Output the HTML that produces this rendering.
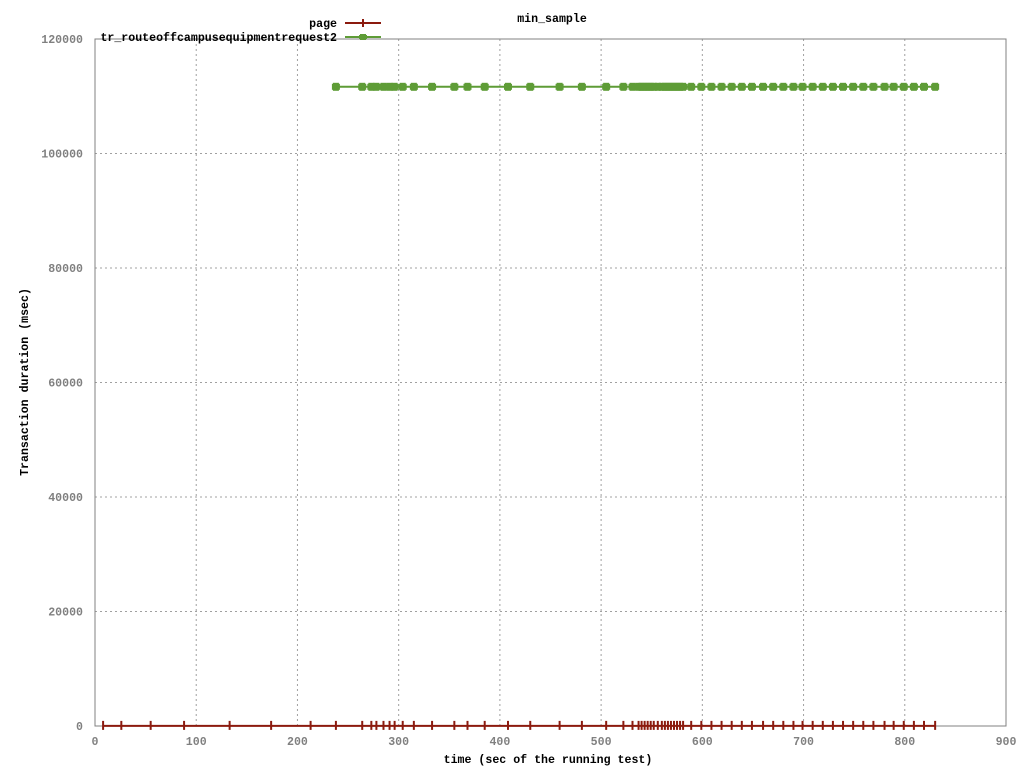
<!DOCTYPE html>
<html><head><meta charset="utf-8"><style>
html,body{margin:0;padding:0;background:#fff}
svg text{font-family:"Liberation Mono",monospace;font-size:11.6px;font-weight:bold;fill:#000}
.tk{fill:#808080}
</style></head><body>
<svg id="chart" width="1024" height="768" xmlns="http://www.w3.org/2000/svg">
<text x="552" y="22" text-anchor="middle">min_sample</text>
<g id="grid"></g>
<g id="axes"></g>
<text x="548" y="763" text-anchor="middle">time (sec of the running test)</text>
<text transform="translate(28,382) rotate(-90)" text-anchor="middle">Transaction duration (msec)</text>
<g id="series"></g>
<g>
<g><text x="337" y="27" text-anchor="end">page</text><line x1="345" y1="23" x2="381" y2="23" stroke="#8b1a0e" stroke-width="2"/><line x1="363" y1="19" x2="363" y2="27" stroke="#8b1a0e" stroke-width="2"/></g>
<g><text x="337" y="41" text-anchor="end">tr_routeoffcampusequipmentrequest2</text><line x1="345" y1="37" x2="381" y2="37" stroke="#5e9c36" stroke-width="2"/><rect x="360" y="34" width="6" height="6" fill="#5e9c36"/><rect x="359" y="35" width="8" height="4" fill="#5e9c36"/></g>
</g>
</svg>
<script>
const xTicks=[0,100,200,300,400,500,600,700,800,900];
const yTicks=[0,20000,40000,60000,80000,100000,120000];
const greenTimes=[238,264,273,278,285,291,296,304,315,333,355,368,385,408,430,459,481,505,522,531,537,540,543,546,549,552,556,560,563,566,569,572,575,578,581,589,599,609,619,629,639,649,660,670,680,690,699,709,719,729,739,749,759,769,780,789,799,809,819,830];
const greenValue=111650;
const redTimes=[8,26,55,88,133,174,213].concat(greenTimes);
const redValue=20;
const X0=95,X1=1006,Y0=726,Y1=39;
function sx(t){return X0+(t-0)/900*(X1-X0);}
function sy(v){return Y0-(v/120000)*(Y0-Y1);}
const NS="http://www.w3.org/2000/svg";
function mk(tag,attrs,parent){const e=document.createElementNS(NS,tag);for(const k in attrs)e.setAttribute(k,attrs[k]);parent.appendChild(e);return e;}
const grid=document.getElementById('grid'),axes=document.getElementById('axes'),ser=document.getElementById('series');
xTicks.forEach(t=>{const x=sx(t);
 if(t>0&&t<900){const l=mk('line',{x1:x,y1:Y1,x2:x,y2:Y0,stroke:'#a0a0a0','stroke-dasharray':'2,3'},grid);
 
 }
 const tk=mk('text',{x:x,y:Y0+19,'text-anchor':'middle',class:'tk'},axes);tk.textContent=t;
 
 
});
yTicks.forEach(v=>{const y=sy(v);
 if(v>0&&v<120000){const l=mk('line',{x1:X0,y1:y,x2:X1,y2:y,stroke:'#a0a0a0','stroke-dasharray':'2,3'},grid);
 
 }
 const tk=mk('text',{x:X0-12,y:y+4,'text-anchor':'end',class:'tk'},axes);tk.textContent=v;
 
 
});
const frame=mk('path',{d:`M${X0},${Y1}H${X1}V${Y0}H${X0}Z`,fill:'none',stroke:'#808080'},axes);


const rp=mk('polyline',{points:redTimes.map(t=>sx(t)+','+sy(redValue)).join(' '),fill:'none',stroke:'#8b1a0e','stroke-width':2},ser);


redTimes.forEach(t=>{const m=mk('line',{x1:sx(t),y1:sy(redValue)-5,x2:sx(t),y2:sy(redValue)+4,stroke:'#8b1a0e','stroke-width':2},ser);
 
 });
const gp=mk('polyline',{points:greenTimes.map(t=>sx(t)+','+sy(greenValue)).join(' '),fill:'none',stroke:'#5e9c36','stroke-width':2},ser);


greenTimes.forEach(t=>{const g=mk('g',{},ser);
 
 
 mk('rect',{x:sx(t)-3,y:sy(greenValue)-4,width:6,height:8,fill:'#5e9c36'},g);
 mk('rect',{x:sx(t)-4,y:sy(greenValue)-3,width:8,height:6,fill:'#5e9c36'},g);});
</script>
</body></html>
